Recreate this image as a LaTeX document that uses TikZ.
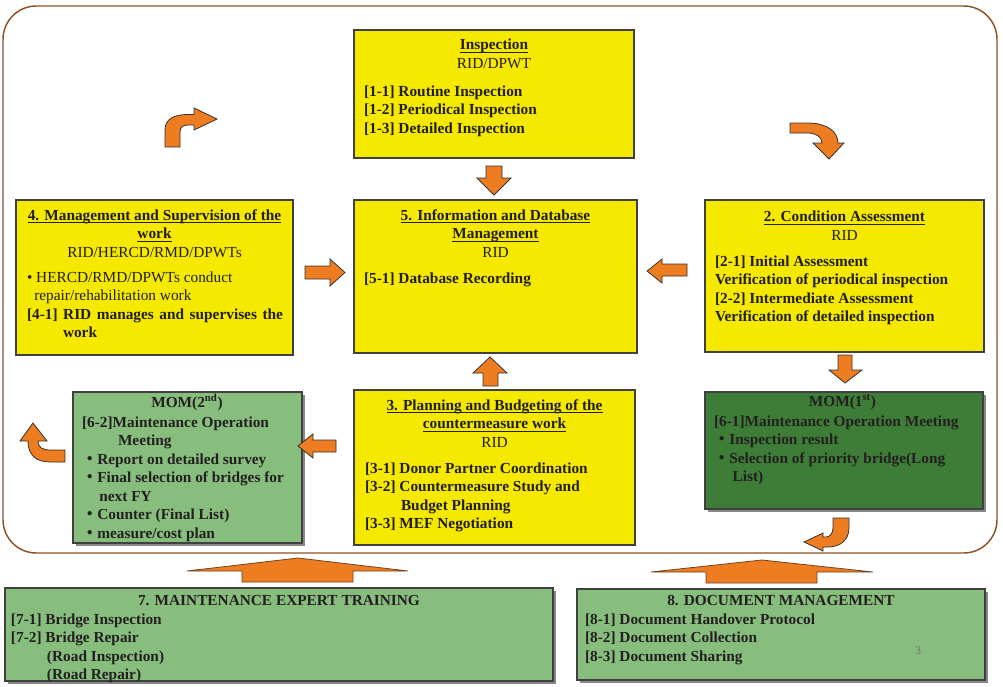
\documentclass[tikz,border=0pt]{standalone}
\usepackage{fontspec}
\setmainfont{Liberation Serif}
\newfontfamily\cjkfont{Noto Sans CJK JP}
\usetikzlibrary{fit,shadows}

\definecolor{ink}{RGB}{35,31,32}
\definecolor{boxyellow}{RGB}{245,233,0}
\definecolor{lightgreen}{RGB}{136,190,125}
\definecolor{darkgreen}{RGB}{62,125,55}
\definecolor{blockorange}{RGB}{238,125,33}
\definecolor{framebrown}{RGB}{139,82,40}

% stacked lines, first baseline on the node's base anchor
\newcommand\blk[1]{\begin{tabular}[t]{@{}l@{}}#1\end{tabular}}
\newcommand\cblk[1]{\begin{tabular}[t]{@{}c@{}}#1\end{tabular}}
% bold title with a rule below the baseline
\newsavebox\ulbx
\newcommand\ttl[1]{\textbf{\sbox\ulbx{#1}\rlap{\rule[-2.5pt]{\wd\ulbx}{0.7pt}}\usebox\ulbx}}
\newcommand\dotb{{\cjkfont ・}}

\begin{document}
\begin{tikzpicture}[x=0.75pt,y=-0.75pt,
  every node/.style={inner sep=0pt, outer sep=0pt, text=ink,
    font=\fontsize{11.5pt}{13.9pt}\selectfont},
  box/.style={draw=black!75, line width=0.8pt},
  ybox/.style={box, fill=boxyellow},
  gbox/.style={box, fill=lightgreen,
    drop shadow={shadow xshift=2.2pt, shadow yshift=-2.2pt, fill=black!55, opacity=0.85}},
  dgbox/.style={box, fill=darkgreen,
    drop shadow={shadow xshift=2.2pt, shadow yshift=-2.2pt, fill=black!55, opacity=0.85}},
  barrow/.style={fill=blockorange, draw=black!80, line width=0.6pt, line join=miter},
  widearrow/.style={barrow, draw=framebrown!80!black},
  frame/.style={draw=framebrown, line width=1.1pt, rounded corners=25pt}]

\useasboundingbox (0,0) rectangle (1003,686);

% cycle frame
\draw[frame] (3,6) rectangle (997,553);

% process boxes
\node[ybox, fit={(354,30) (634,158)}] (insp) {};
\node[ybox, fit={(354,200) (637,353)}] (db) {};
\node[ybox, fit={(705,200) (984,352)}] (cond) {};
\node[ybox, fit={(16,200) (293,355)}] (mgmt) {};
\node[ybox, fit={(354,390) (635,545)}] (plan) {};
\node[gbox, fit={(73,392) (302,543)}] (mom2) {};
\node[dgbox, fit={(705,392) (983,509)}] (mom1) {};
\node[gbox, fit={(5,588) (553,681)}] (train) {};
\node[gbox, fit={(577,589) (985,680)}] (docm) {};

% texts
\node[anchor=base] (inspT) at (494,49.5) {\cblk{\ttl{Inspection}\\RID/DPWT}};
\node[anchor=base west] (inspB) at (364,96) {\bfseries\blk{[1-1] Routine Inspection\\{}[1-2] Periodical Inspection\\{}[1-3] Detailed Inspection}};

\node[anchor=base] (dbT) at (495.5,220) {\cblk{\ttl{5. Information and Database}\\\ttl{Management}\\RID}};
\node[anchor=base west] (dbB) at (364,283) {\bfseries [5-1] Database Recording};

\node[anchor=base] (condT) at (844.5,221.5) {\cblk{\ttl{2. Condition Assessment}\\RID}};
\node[anchor=base west] (condB) at (715,266) {\bfseries\blk{[2-1] Initial Assessment\\Verification of periodical inspection\\{}[2-2] Intermediate Assessment\\Verification of detailed inspection}};

\node[anchor=base] (mgmtT) at (154.5,220) {\cblk{\ttl{4. Management and Supervision of the}\\\ttl{work}\\RID/HERCD/RMD/DPWTs}};
\node[anchor=base west] (mgmtB) at (27,282) {\blk{• HERCD/RMD/DPWTs conduct\\\hspace*{5.5pt}repair/rehabilitation work\\\textbf{\makebox[192pt][s]{[4-1] RID manages and supervises the}}\\\hspace*{27pt}\textbf{work}}};

\node[anchor=base] (planT) at (494.5,410) {\cblk{\ttl{3. Planning and Budgeting of the}\\\ttl{countermeasure work}\\RID}};
\node[anchor=base west] (planB) at (365,473) {\bfseries\blk{[3-1] Donor Partner Coordination\\{}[3-2] Countermeasure Study and\\\hspace*{27pt}Budget Planning\\{}[3-3] MEF Negotiation}};

\node[anchor=base] (mom2T) at (187,407) {\bfseries MOM(2\textsuperscript{nd})};
\node[anchor=base west] (mom2B) at (82,427) {\bfseries\blk{[6-2]Maintenance Operation\\\hspace*{27pt}Meeting\\\dotb Report on detailed survey\\\dotb Final selection of bridges for\\\hspace*{13pt}next FY\\\dotb Counter (Final List)\\\dotb measure/cost plan}};

\node[anchor=base] (mom1T) at (842.5,406) {\bfseries MOM(1\textsuperscript{st})};
\node[anchor=base west] (mom1B) at (714,426) {\bfseries\blk{[6-1]Maintenance Operation Meeting\\\dotb Inspection result\\\dotb Selection of priority bridge(Long\\\hspace*{14pt}List)}};

\node[anchor=base] (trainT) at (279,605) {\bfseries 7. MAINTENANCE EXPERT TRAINING};
\node[anchor=base west] (trainB) at (11,624) {\bfseries\blk{[7-1] Bridge Inspection\\{}[7-2] Bridge Repair\\\hspace*{27pt}(Road Inspection)\\\hspace*{27pt}(Road Repair)}};

\node[anchor=base] (docT) at (781,605) {\bfseries 8. DOCUMENT MANAGEMENT};
\node[anchor=base west] (docB) at (585,624) {\bfseries\blk{[8-1] Document Handover Protocol\\{}[8-2] Document Collection\\{}[8-3] Document Sharing}};
\node[anchor=base, font=\fontsize{9pt}{10pt}\selectfont, text=black!55] (pg) at (918,654) {3};

% straight block arrows
\draw[barrow] (486,166) -- (502,166) -- (502,178) -- (511,178) -- (494,195) -- (477,178) -- (486,178) -- cycle;
\draw[barrow] (483,386) -- (483,373) -- (473,373) -- (490,357) -- (507,373) -- (498,373) -- (498,386) -- cycle;
\draw[barrow] (687,264) -- (662,264) -- (662,259) -- (647,271) -- (662,283) -- (662,276) -- (687,276) -- cycle;
\draw[barrow] (305,266) -- (330,266) -- (330,259) -- (345,272.5) -- (330,286) -- (330,279) -- (305,279) -- cycle;
\draw[barrow] (838,355) -- (852,355) -- (852,370) -- (862,370) -- (845,383) -- (829,370) -- (838,370) -- cycle;
\draw[barrow] (336,440) -- (313,440) -- (313,434) -- (298,446) -- (313,458) -- (313,452) -- (336,452) -- cycle;

% bent block arrows round the cycle
\draw[barrow] (165,147) -- (165,130) .. controls (165,119) and (174,114.5) .. (188,114.5) -- (194,114.5) -- (194,108) -- (217,119) -- (194,130) -- (194,125) -- (188,125) .. controls (183,125) and (180,127) .. (180,132) -- (180,147) -- cycle;
\draw[barrow] (790,123) -- (808,123) .. controls (826,123) and (838,131) .. (838,143) -- (844,143) -- (829,159) -- (813,143) -- (822,143) .. controls (822,137) and (816,133) .. (808,133) -- (790,133) -- cycle;
\draw[barrow] (65,450) -- (50,450) .. controls (42,450) and (38,447) .. (38,441) -- (47,441) -- (33,423) -- (20,441) -- (28,441) .. controls (28,455) and (36,462) .. (50,462) -- (65,462) -- cycle;
\draw[barrow] (833,518) -- (849,518) -- (849,528) .. controls (849,540) and (840,547) .. (828,547) -- (823,547) -- (823,551) -- (804,542) -- (823,533) -- (823,537) -- (826,537) .. controls (830,537) and (833,533) .. (833,528) -- cycle;

% wide arrows from the supporting activities
\draw[widearrow] (242,582) -- (242,571) -- (187,571) -- (298,558) -- (408,571) -- (353,571) -- (353,582) -- cycle;
\draw[widearrow] (706,583) -- (706,572) -- (651,572) -- (762,560) -- (873,572) -- (817,572) -- (817,583) -- cycle;
\end{tikzpicture}
\end{document}
